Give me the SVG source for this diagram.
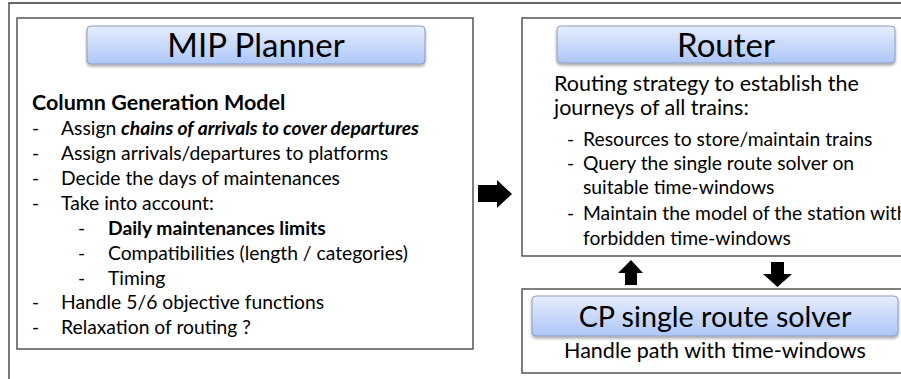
<svg xmlns="http://www.w3.org/2000/svg" width="901" height="379" viewBox="0 0 901 379">
<defs>
<linearGradient id="tg" x1="0" y1="0" x2="0" y2="1">
<stop offset="0" stop-color="#e6edfd"/>
<stop offset="1" stop-color="#adc6f7"/>
</linearGradient>
<filter id="sh" x="-5%" y="-20%" width="110%" height="150%">
<feDropShadow dx="0" dy="2" stdDeviation="1.5" flood-color="#000" flood-opacity="0.35"/>
</filter>
</defs>
<style>
.frame{fill:none;stroke:#333;stroke-width:1.3}
.box{fill:#fff;stroke:#555;stroke-width:1.5}
.title{fill:url(#tg);stroke:#8e9dbd;stroke-width:1}
text{font-family:Lato,"Open Sans","Liberation Sans",sans-serif;fill:#000}
.t1{font-size:33px;text-anchor:middle}
.t2{font-size:28.7px;text-anchor:middle}
.h{font-size:21.5px;font-weight:bold}
.b{font-size:19.3px}
.r{font-size:21.5px}
.rb{font-size:19.3px}
.arrow{fill:#000}
</style>
<path class="frame" d="M9,379 V3 H901"/>
<g id="mip">
<rect class="box" x="17" y="18" width="456" height="331"/>
<rect class="title" x="87" y="26" width="338" height="38" rx="4" filter="url(#sh)"/>
<text class="t1" x="256" y="57">MIP Planner</text>
<text class="h" x="32" y="110">Column Generation Model</text>
<text class="b" x="32" y="135">-</text><text class="b" x="61" y="135">Assign <tspan font-weight="bold" font-style="italic">chains of arrivals to cover departures</tspan></text>
<text class="b" x="32" y="160">-</text><text class="b" x="61" y="160">Assign arrivals/departures to platforms</text>
<text class="b" x="32" y="185">-</text><text class="b" x="61" y="185">Decide the days of maintenances</text>
<text class="b" x="32" y="210">-</text><text class="b" x="61" y="210">Take into account:</text>
<text class="b" x="78" y="235">-</text><text class="b" x="108" y="235" font-weight="bold">Daily maintenances limits</text>
<text class="b" x="78" y="260">-</text><text class="b" x="108" y="260">Compatibilities (length / categories)</text>
<text class="b" x="78" y="285">-</text><text class="b" x="108" y="285">Timing</text>
<text class="b" x="32" y="309">-</text><text class="b" x="61" y="309">Handle 5/6 objective functions</text>
<text class="b" x="32" y="334">-</text><text class="b" x="61" y="334">Relaxation of routing ?</text>
</g>
<g id="router">
<rect class="box" x="522" y="18" width="385" height="238"/>
<rect class="title" x="557" y="26" width="338" height="37" rx="4" filter="url(#sh)"/>
<text class="t1" x="726" y="57">Router</text>
<text class="r" x="554" y="91">Routing strategy to establish the</text>
<text class="r" x="554" y="115">journeys of all trains:</text>
<text class="rb" x="567" y="146">-</text><text class="rb" x="583" y="146">Resources to store/maintain trains</text>
<text class="rb" x="567" y="170">-</text><text class="rb" x="583" y="170">Query the single route solver on</text>
<text class="rb" x="583" y="194">suitable time-windows</text>
<text class="rb" x="567" y="220">-</text><text class="rb" x="583" y="220">Maintain the model of the station with</text>
<text class="rb" x="583" y="245">forbidden time-windows</text>
</g>
<g id="cp">
<rect class="box" x="522" y="289" width="385" height="84"/>
<rect class="title" x="532" y="296" width="366" height="40" rx="4" filter="url(#sh)"/>
<text class="t2" x="715" y="327">CP single route solver</text>
<text class="r" x="715" y="358" text-anchor="middle">Handle path with time-windows</text>
</g>
<g id="connectors">
<polygon class="arrow" points="478,185 497,185 497,180 512,194 497,208 497,202 478,202"/>
<polygon class="arrow" points="631,260 643,273 637,273 637,285 625,285 625,273 618,273"/>
<polygon class="arrow" points="771,262 784,262 784,274 792,274 777.5,287 763,274 771,274"/>
</g>
</svg>
